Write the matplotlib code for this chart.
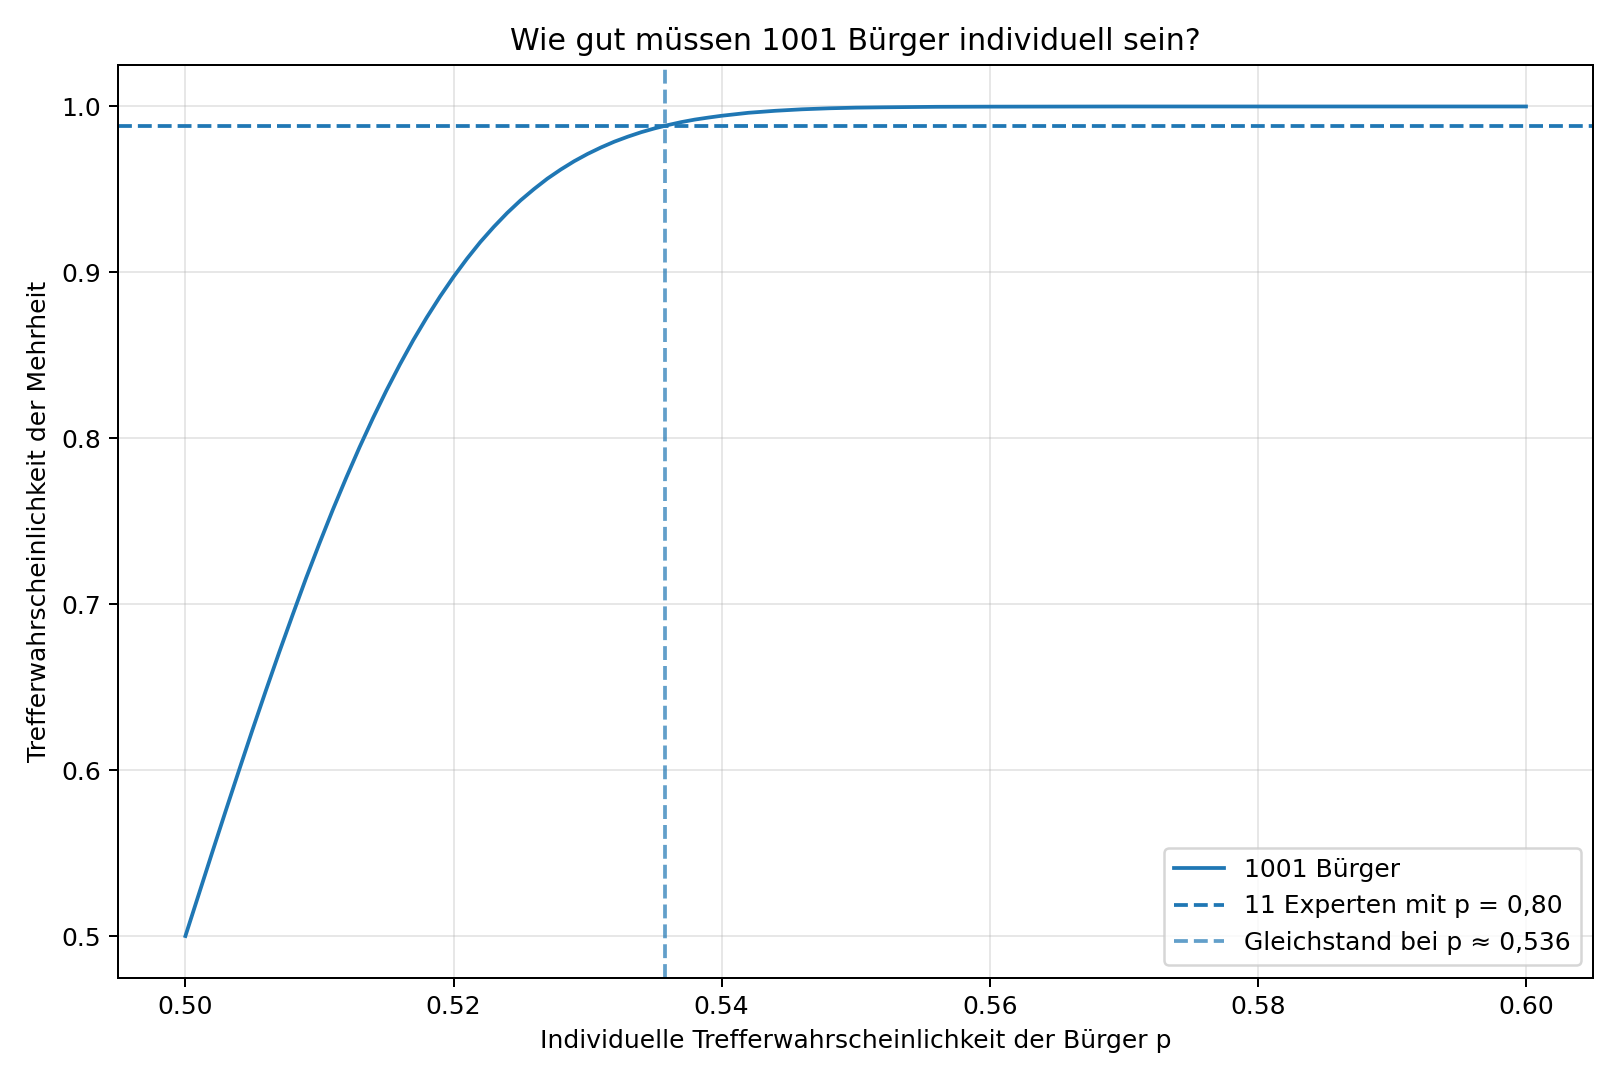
import matplotlib; matplotlib.use("Agg"); import matplotlib.pyplot as plt

p_werte = [0.500, 0.501, 0.502, 0.503, 0.504, 0.505, 0.506, 0.507, 0.508, 0.509,
           0.510, 0.511, 0.512, 0.513, 0.514, 0.515, 0.516, 0.517, 0.518, 0.519,
           0.520, 0.521, 0.522, 0.523, 0.524, 0.525, 0.526, 0.527, 0.528, 0.529,
           0.530, 0.531, 0.532, 0.533, 0.534, 0.535, 0.536, 0.537, 0.538, 0.539,
           0.540, 0.542, 0.544, 0.546, 0.548, 0.550, 0.552, 0.556, 0.560, 0.570,
           0.580, 0.590, 0.600]
mehrheit = [0.5000, 0.5252, 0.5504, 0.5753, 0.5999, 0.6242, 0.6479, 0.6711, 0.6936, 0.7157,
            0.7367, 0.7570, 0.7763, 0.7948, 0.8123, 0.8289, 0.8445, 0.8592, 0.8728, 0.8855,
            0.8973, 0.9082, 0.9183, 0.9274, 0.9358, 0.9434, 0.9502, 0.9565, 0.9620, 0.9670,
            0.9714, 0.9753, 0.9788, 0.9818, 0.9845, 0.9868, 0.9888, 0.9906, 0.9921, 0.9933,
            0.9944, 0.9962, 0.9974, 0.9983, 0.9989, 0.9993, 0.9995, 0.9998, 0.9999, 1.0,
            1.0, 1.0, 1.0]
experten_p = 0.988
gleichstand = 0.5358

fig, ax = plt.subplots(figsize=(9, 6), dpi=180)
ax.plot(p_werte, mehrheit, color='C0', lw=1.5, label='1001 Bürger')
ax.axhline(experten_p, color='C0', ls='--', lw=1.5, label='11 Experten mit p = 0,80')
ax.axvline(gleichstand, color='C0', ls='--', lw=1.5, alpha=0.7, label='Gleichstand bei p ≈ 0,536')
ax.set_title('Wie gut müssen 1001 Bürger individuell sein?')
ax.set_xlabel('Individuelle Trefferwahrscheinlichkeit der Bürger p')
ax.set_ylabel('Trefferwahrscheinlichkeit der Mehrheit')
ax.grid(True, alpha=0.3)
ax.legend(loc='lower right')
fig.tight_layout()
fig.savefig('out.png')
